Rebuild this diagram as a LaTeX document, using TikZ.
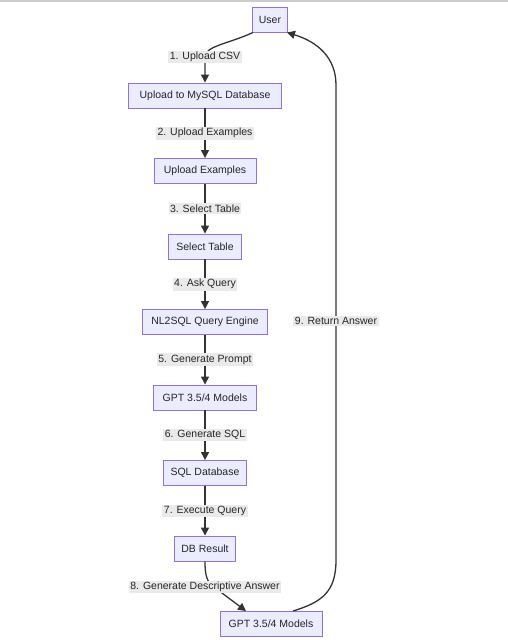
\documentclass[tikz,border=0pt]{standalone}
\usepackage{fontspec}
\setmainfont{Liberation Sans}
\usetikzlibrary{arrows.meta}
\definecolor{boxfill}{HTML}{ECECFF}
\definecolor{boxline}{HTML}{9370DB}
\definecolor{edgecol}{HTML}{333333}
\definecolor{lblfill}{HTML}{EAEAEA}
\definecolor{topline}{HTML}{CCCCCC}
\tikzset{
  box/.style={draw=boxline, fill=boxfill, line width=0.9pt, minimum height=25pt,
    inner sep=0pt, font=\fontsize{10.5}{12}\selectfont, text=black!85},
  edge/.style={draw=edgecol, line width=1.3pt, -{Triangle[length=8pt,width=8pt]}},
  lbl/.style={fill=lblfill, inner xsep=1.5pt, inner ysep=1.5pt,
    font=\fontsize{10.5}{12}\selectfont, text=black!85},
}
\begin{document}
\begin{tikzpicture}[x=1pt,y=-1pt]
\useasboundingbox (0,0) rectangle (508,640);
\fill[white] (0,0) rectangle (508,640);
\draw[topline, line width=2pt] (0,1) -- (508,1);

\node[box, minimum width=35pt]  (user) at (270,19.5) {User};
\node[box, minimum width=153pt] (upl)  at (205,95.5) {Upload to MySQL Database};
\node[box, minimum width=102pt] (ex)   at (205,171) {Upload Examples};
\node[box, minimum width=73pt]  (sel)  at (205,246.5) {Select Table};
\node[box, minimum width=125pt] (nl)   at (205,322) {NL2SQL Query Engine};
\node[box, minimum width=103pt] (gpt)  at (205,397.5) {GPT 3.5/4 Models};
\node[box, minimum width=83pt]  (sql)  at (205,473) {SQL Database};
\node[box, minimum width=61pt]  (db)   at (205,548.5) {DB Result};
\node[box, minimum width=102pt] (gpt2) at (271,624) {GPT 3.5/4 Models};

\draw[edge] ([xshift=1pt]user.south west) .. controls (228,44) and (205,46) .. (205,57)
  node[lbl] (l1) {1. Upload CSV} -- (upl.north);
\draw[edge] (upl.south) -- node[lbl] (l2) {2. Upload Examples} (ex.north);
\draw[edge] (ex.south) -- node[lbl] (l3) {3. Select Table} (sel.north);
\draw[edge] (sel.south) -- node[lbl] (l4) {4. Ask Query} (nl.north);
\draw[edge] (nl.south) -- node[lbl] (l5) {5. Generate Prompt} (gpt.north);
\draw[edge] (gpt.south) -- node[lbl] (l6) {6. Generate SQL} (sql.north);
\draw[edge] (sql.south) -- node[lbl] (l7) {7. Execute Query} (db.north);
\draw[edge] (db.south) .. controls (205,576) and (207,582) .. (214,587)
  node[lbl, xshift=-9pt] (l8) {8. Generate Descriptive Answer} -- ([xshift=-25pt]gpt2.north);
\draw[edge] ([xshift=22pt]gpt2.north) .. controls (322,602) and (336,592) .. (336,560)
  -- (336,321) node[lbl] (l9) {9. Return Answer}
  -- (336,85) .. controls (336,58) and (318,42) .. ([xshift=-1pt]user.south east);
\end{tikzpicture}
\end{document}
